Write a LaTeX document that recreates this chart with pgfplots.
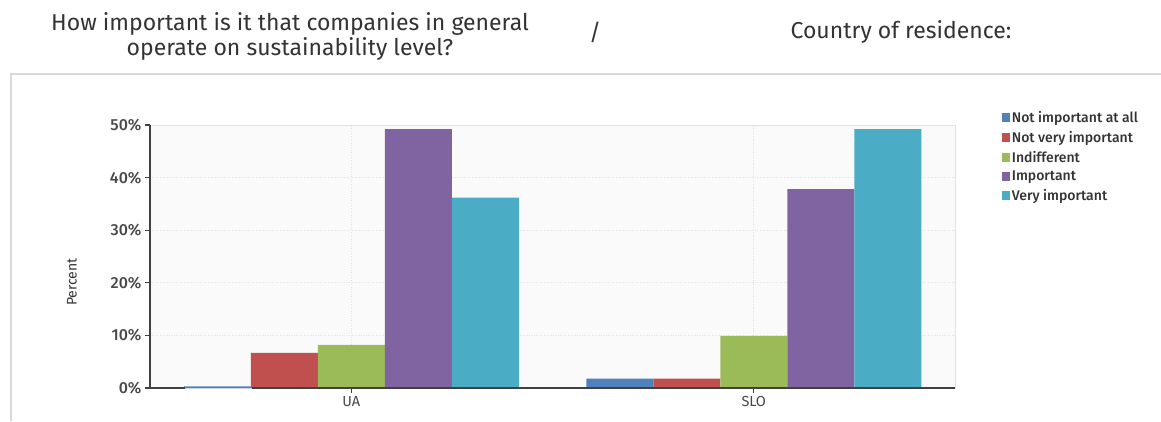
\documentclass[border=0pt]{standalone}
\usepackage{fontspec}
\setmainfont{Fira Sans}
\newfontfamily\medfont{Fira Sans Medium}
\usepackage{pgfplots}
\pgfplotsset{compat=1.18}
\definecolor{cA}{HTML}{4F81BD}
\definecolor{cB}{HTML}{C0504D}
\definecolor{cC}{HTML}{9BBB59}
\definecolor{cD}{HTML}{8064A2}
\definecolor{cE}{HTML}{4BACC6}
\definecolor{txt}{HTML}{333333}
\definecolor{tick}{HTML}{484848}
\definecolor{frame}{HTML}{D9D9D9}
\definecolor{gridc}{HTML}{E2E2E2}
\begin{document}
\begin{tikzpicture}
\useasboundingbox[fill=white] (0pt,0pt) rectangle (1161pt,421pt);
% title
\node[font=\fontsize{23}{25}\selectfont, text=txt, align=center] at (290pt,385pt) {How important is it that companies in general\\operate on sustainability level?};
\node[font=\fontsize{23}{25}\selectfont, text=txt] at (595pt,389pt) {/};
\node[font=\fontsize{23}{25}\selectfont, text=txt] at (901pt,389pt) {Country of residence:};
% frame
\draw[frame, line width=2pt] (11pt,0pt) -- (11pt,347pt) -- (1161pt,347pt);
% y label
\node[rotate=90, font=\fontsize{14}{16}\selectfont, text=txt] at (72pt,139pt) {Percent};
\begin{axis}[
  at={(150pt,33pt)}, anchor=south west,
  scale only axis, width=805pt, height=263pt,
  ybar, bar width=67pt,
  xmin=-0.5, xmax=1.5, ymin=0, ymax=50,
  xtick={0,1}, xticklabels={UA,SLO},
  ytick={0,10,20,30,40,50},
  yticklabels={0\%,10\%,20\%,30\%,40\%,50\%},
  tick label style={font=\medfont\fontsize{16}{18}\selectfont, text=tick},
  xticklabel style={font=\fontsize{14.5}{16}\selectfont},
  xtick pos=bottom, ytick pos=left,
  tick align=outside, major tick length=5pt,
  tick style={draw=black!75, line width=1.2pt},
  xmajorgrids, ymajorgrids,
  major grid style={gridc, dotted, line width=0.8pt},
  axis line style={draw=gridc, line width=1pt},
  axis background/.style={fill=black!2},
  clip=false,
  legend style={at={(1.058,1.06)}, anchor=north west, draw=none, fill=none,
    font=\medfont\fontsize{14}{15}\selectfont, text=txt,
    row sep=3.3pt, inner sep=0pt},
  legend cell align=left,
  legend image code/.code={\fill[#1] (0pt,-4pt) rectangle (8pt,5pt);},
]
\addplot[fill=cA, draw=none, bar shift=-134pt] coordinates {(0,0.3) (1,1.8)};
\addplot[fill=cB, draw=none, bar shift=-67pt] coordinates {(0,6.7) (1,1.8)};
\addplot[fill=cC, draw=none, bar shift=0pt] coordinates {(0,8.2) (1,9.9)};
\addplot[fill=cD, draw=none, bar shift=67pt] coordinates {(0,49.2) (1,37.8)};
\addplot[fill=cE, draw=none, bar shift=134pt] coordinates {(0,36.2) (1,49.2)};
\legend{Not important at all,Not very important,Indifferent,Important,Very important}
\draw[black!75, line width=1.2pt] (rel axis cs:0,1) -- (rel axis cs:0,0) -- (rel axis cs:0.043,0);
\draw[black!75, line width=1.2pt] (rel axis cs:0.127,0) -- (rel axis cs:1,0);
\end{axis}
\end{tikzpicture}
\end{document}
